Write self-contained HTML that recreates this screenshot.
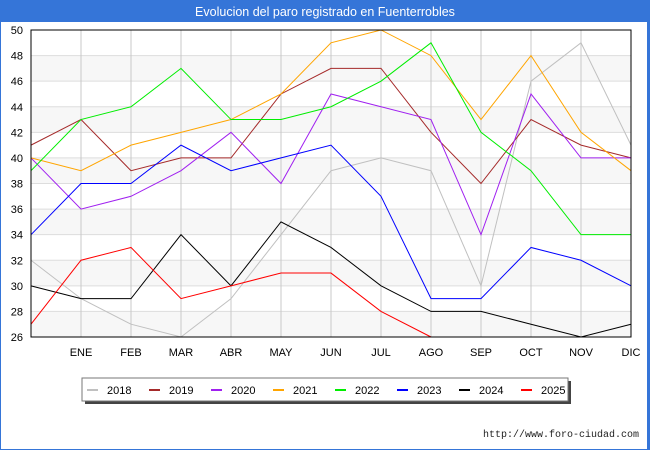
<!DOCTYPE html>
<html><head><meta charset="utf-8"><style>
body{margin:0;background:#fff;font-family:"Liberation Sans","DejaVu Sans",sans-serif;}
#wrap{position:relative;width:650px;height:450px;box-sizing:border-box;border:1px solid #3575d8;border-right-width:3px;border-top:none;background:#fff;overflow:hidden}
</style></head><body>
<div id="wrap">
<svg id="chart" width="650" height="450" style="position:absolute;left:-1px;top:0">
<rect x="0" y="0" width="650" height="22" fill="#3575d8"/>
<text x="325" y="16" text-anchor="middle" font-size="12.5" fill="#fff">Evolucion del paro registrado en Fuenterrobles</text>
<g id="grid"></g><g id="series"></g><g id="axes"></g>
<g>
<rect x="85" y="381" width="486" height="23" fill="#444"/>
<rect x="82" y="378" width="486" height="23" fill="#fff" stroke="#777" stroke-width="1"/>
<g id="legend"></g>
</g>
<text x="639" y="437" text-anchor="end" font-size="10" fill="#222" font-family="Liberation Mono, monospace">http://www.foro-ciudad.com</text>
</svg>
</div>
<script>
const months=["","ENE","FEB","MAR","ABR","MAY","JUN","JUL","AGO","SEP","OCT","NOV","DIC"];
const yTicks=[26,28,30,32,34,36,38,40,42,44,46,48,50];
const years=["2018","2019","2020","2021","2022","2023","2024","2025"];
const colors=["#c0c0c0","#a52a2a","#a020f0","#ffa500","#00ee00","#0000ff","#000000","#ff0000"];
const v2018=[32,29,27,26,29,34,39,40,39,30,46,49,41];
const v2019=[41,43,39,40,40,45,47,47,42,38,43,41,40];
const v2020=[40,36,37,39,42,38,45,44,43,34,45,40,40];
const v2021=[40,39,41,42,43,45,49,50,48,43,48,42,39];
const v2022=[39,43,44,47,43,43,44,46,49,42,39,34,34];
const v2023=[34,38,38,41,39,40,41,37,29,29,33,32,30];
const v2024=[30,29,29,34,30,35,33,30,28,28,27,26,27];
const v2025=[27,32,33,29,30,31,31,28,26];
const seriesData=[v2018,v2019,v2020,v2021,v2022,v2023,v2024,v2025];
const L=31,R=631,T=30,B=337,ymin=26,ymax=50;
const x=i=>L+i*(R-L)/12;
const y=v=>B-(v-ymin)/(ymax-ymin)*(B-T);
const NS="http://www.w3.org/2000/svg";
function mk(tag,attrs,parent){const e=document.createElementNS(NS,tag);for(const k in attrs)e.setAttribute(k,attrs[k]);parent.appendChild(e);return e;}
const grid=document.getElementById('grid'),axes=document.getElementById('axes'),ser=document.getElementById('series'),leg=document.getElementById('legend');
for(let k=0;k<yTicks.length-1;k++){
  if(k%2===0){const r=mk('rect',{x:L,y:y(yTicks[k+1]),width:R-L,height:y(yTicks[k])-y(yTicks[k+1]),fill:'#f7f7f7'},grid);
  
  }
}
yTicks.forEach(t=>{
  const l=mk('line',{x1:L,x2:R,y1:y(t),y2:y(t),stroke:'#dddddd','stroke-width':1},grid);
  
  
  const tx=mk('text',{x:L-8,y:y(t)+4,'text-anchor':'end','font-size':11,fill:'#000'},axes);
  tx.textContent=t;
  
  
});
months.forEach((m,i)=>{
  const l=mk('line',{x1:x(i),x2:x(i),y1:T,y2:B,stroke:'#c8c8c8','stroke-width':1},grid);
  
  
  if(m){const tx=mk('text',{x:x(i),y:B+19,'text-anchor':'middle','font-size':11,fill:'#000'},axes);
  tx.textContent=m;
  
  }
});
const frame=mk('rect',{x:L,y:T,width:R-L,height:B-T,fill:'none',stroke:'#000','stroke-width':1},axes);


seriesData.forEach((d,s)=>{
  const p=mk('polyline',{points:d.map((v,i)=>x(i)+','+y(v)).join(' '),fill:'none',stroke:colors[s],'stroke-width':1},ser);
  
  
  const lx=87+s*62;
  const sw=mk('line',{x1:lx,x2:lx+11,y1:390,y2:390,stroke:colors[s],'stroke-width':2},leg);
  
  
  const t=mk('text',{x:lx+20,y:394,'font-size':11,fill:'#000'},leg);
  t.textContent=years[s];
  
  
});
</script>
</body></html>
